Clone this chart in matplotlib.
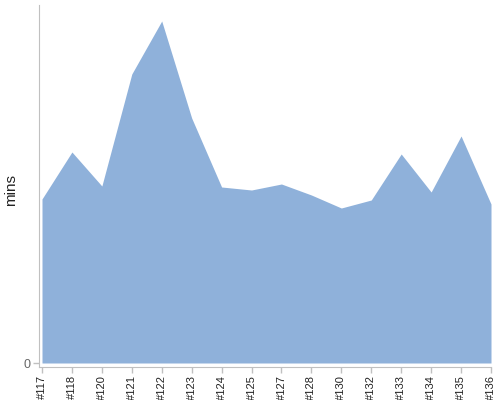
import matplotlib
matplotlib.use('Agg')
import matplotlib.pyplot as plt

# build labels and wait time per build (axis has no scale, only 0 is labelled)
builds = ['#117', '#118', '#120', '#121', '#122', '#123', '#124', '#125',
          '#127', '#128', '#130', '#132', '#133', '#134', '#135', '#136']
mins = [164, 211, 177, 289, 342, 245, 176, 173,
        179, 168, 155, 163, 209, 171, 227, 159]

plt.rcParams['font.family'] = ['Liberation Sans', 'DejaVu Sans']

fig = plt.figure(figsize=(5, 4), dpi=100)
ax = fig.add_axes([39 / 500, 33 / 400, 452 / 500, 362 / 400])

x = list(range(len(builds)))
ax.fill_between(x, mins, 0, color='#8fb1da', linewidth=0)

ax.set_xlim(-0.1, len(builds) - 1)
ax.set_ylim(-4, 358)

ax.set_xticks(x)
ax.set_xticklabels(builds, rotation=90, fontsize=8, color='#222222')
ax.set_yticks([0])
ax.set_yticklabels(['0'], fontsize=9, color='#666666')
ax.set_ylabel('mins', fontsize=11, color='#222222')
ax.yaxis.set_label_coords(-0.046, 0.49)

for side in ['top', 'right']:
    ax.spines[side].set_visible(False)
for side in ['left', 'bottom']:
    ax.spines[side].set_color('#c0c0c0')
ax.tick_params(axis='both', colors='#c0c0c0', length=4, width=1, pad=2)
for lbl in ax.get_xticklabels():
    lbl.set_color('#222222')
for lbl in ax.get_yticklabels():
    lbl.set_color('#666666')

fig.savefig('out.png', dpi=100)
